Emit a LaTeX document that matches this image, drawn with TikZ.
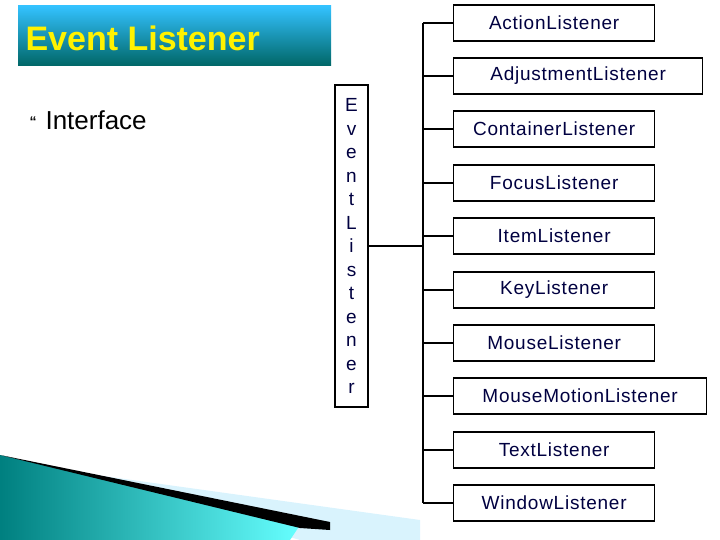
\documentclass[tikz,border=0pt]{standalone}
\usepackage{fontspec}
\setmainfont{Liberation Sans}
\begin{document}
\begin{tikzpicture}[x=1pt,y=-1pt,
  lbox/.style={draw=black,line width=1.3pt,minimum height=36pt,anchor=west,inner sep=2pt,text=black!75!blue,font=\fontsize{19}{19}\selectfont\addfontfeature{LetterSpace=4}},
  conn/.style={line width=1.3pt}]
\useasboundingbox (0,0) rectangle (720,540);
% title
\shade[top color=cyan!70!blue!80,bottom color=cyan!40!black] (18,6) rectangle (331,66);
\node[anchor=west,text=yellow,font=\bfseries\fontsize{34}{34}\selectfont] (title) at (22,38) {Event Listener};
\node[anchor=west] (bul) at (26,122) {\fontsize{14}{14}\selectfont\textbf{``}};
\node[anchor=west,font=\fontsize{26}{26}\selectfont] (intf) at (42,120) {Interface};
% decoration
\fill[cyan!15] (60,470) -- (420,520) -- (420,540) -- (300,540) -- cycle;
\shade[left color=cyan!50!black,right color=cyan!60] (0,455) -- (300,525) -- (290,540) -- (0,540) -- cycle;
\fill[black] (0,455) -- (330,522) -- (330,530) -- (300,528) -- cycle;
% E box
\draw[line width=1.3pt] (335,85) rectangle (368,407);
\node[font=\fontsize{19}{23.5}\selectfont,text=black!75!blue,align=center] (ev) at (351.5,246) {E\\v\\e\\n\\t\\L\\i\\s\\t\\e\\n\\e\\r};
\coordinate (eb) at (368,246);
\coordinate (top) at (423,23);
\coordinate (bot) at (423,503);
\draw[conn] (eb) -- (423,246);
\draw[conn] (top) -- (bot);
\foreach \n/\t/\y/\w in {a/ActionListener/23/201,b/AdjustmentListener/76/249,c/ContainerListener/129/201,d/FocusListener/183/201,e/ItemListener/236/201,f/KeyListener/290/201,g/MouseListener/343/201,h/MouseMotionListener/396/253,i/TextListener/450/201,j/WindowListener/503/201}{
  \node[lbox,minimum width=\w pt] (\n) at (453,\y) {\t};
  \draw[conn] (423,\y) -- (\n.west);
}
\end{tikzpicture}
\end{document}
